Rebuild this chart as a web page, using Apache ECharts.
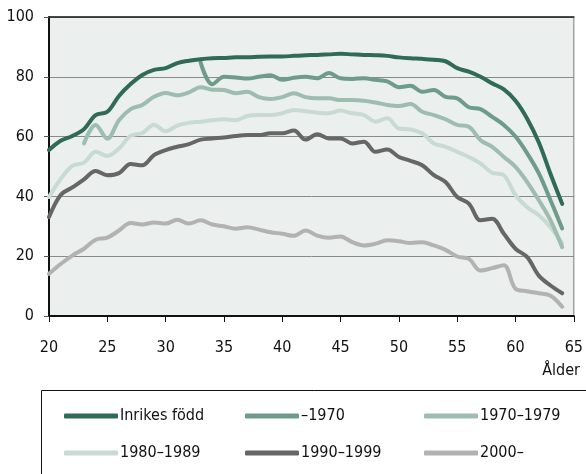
<!DOCTYPE html>
<html><head><meta charset="utf-8">
<script src="https://cdn.jsdelivr.net/npm/echarts@6/dist/echarts.min.js"></script>
<style>html,body{margin:0;padding:0;background:#fff}#c{width:586px;height:474px}</style>
</head><body><div id="c"></div>
<script>
const seriesNames = ['Inrikes född','–1970','1970–1979','1980–1989','1990–1999','2000–'];
const startAges = [20,33,23,20,20,20];
const inrikes = [55.5,58.6,60.2,62.5,67.2,68.3,73.6,77.6,80.6,82.3,82.9,84.6,85.4,85.9,86.2,86.3,86.5,86.5,86.7,86.8,86.8,87,87.2,87.3,87.5,87.7,87.5,87.3,87.2,87,86.5,86.2,86,85.7,85.2,82.9,81.7,80,77.8,75.8,72,66,58,47.5,37.5];
const fore1970 = [84.8,77.5,80,79.8,79.4,80,80.5,79,79.7,80,79.5,81.3,79.5,79.3,79.5,79,78.5,76.5,77,75,75.6,73.3,72.8,69.8,69.2,66.6,63.9,60,54.4,47.7,38.7,29.3];
const y1970_1979 = [57.7,63.9,59.3,65.5,69.2,70.6,73.3,74.6,73.8,74.8,76.5,75.7,75.6,74.5,75,73.2,72.6,73.2,74.5,73.2,72.8,72.8,72.2,72.2,72,71.4,70.6,70.2,70.9,68.3,67.2,65.8,63.9,63.3,58.8,56.6,53.2,49.9,44.8,38.7,32,23];
const y1980_1989 = [39.8,45.8,50.2,51.3,54.9,53.5,56,60.3,61.2,64,61.8,63.7,64.6,65,65.5,65.8,65.5,66.9,67.2,67.2,67.8,68.9,68.5,68,67.8,68.7,67.8,67.2,65,66.1,62.7,62.4,61.1,57.7,56.6,54.9,53.2,51,47.9,47.1,40.4,36.4,33.7,29.7,24.3];
const y1990_1999 = [33.1,40.5,43,45.7,48.5,47.1,47.8,50.8,50.4,53.8,55.5,56.6,57.5,59,59.4,59.7,60.2,60.5,60.5,61.1,61.1,62,59,60.8,59.4,59.4,57.7,58.3,54.9,55.7,53.2,51.9,50.4,47.1,44.8,39.8,37.6,32,32.5,27.5,22.5,19.7,13.5,10.2,7.6];
const y2000 = [14.1,17.4,20.2,22.5,25.5,26.2,28.6,31.1,30.6,31.3,30.9,32.2,30.9,32,30.6,30,29.2,29.7,28.9,28,27.5,26.8,28.6,26.9,26.2,26.6,24.7,23.6,24.2,25.3,25,24.4,24.7,23.6,22.1,19.9,19.1,15.2,16,17,9.1,8.3,7.6,6.8,3.1];
const xTicks = [20,25,30,35,40,45,50,55,60,65];
const yTicks = [0,20,40,60,80,100];

const values = [inrikes,fore1970,y1970_1979,y1980_1989,y1990_1999,y2000];
const colors = ['#2f6b56','#6e9c8a','#9dbdb0','#c7dbd3','#666666','#b2b2b2'];
const FONT = '"DejaVu Sans Condensed","Liberation Sans Narrow",sans-serif';

const drawOrder = [5,4,3,2,1,0];
const series = drawOrder.map(i => ({
  name: seriesNames[i], type: 'line', smooth: 0.35, showSymbol: false, symbol: 'none',
  lineStyle: {color: colors[i], width: 4, cap: 'round', join: 'round'},
  itemStyle: {color: colors[i]},
  data: values[i].map((v, k) => [startAges[i] + k, v]),
  z: 10 - i
}));

function legendCol(names, left) {
  return {
    data: names.map(n => ({name: n, icon: 'roundRect'})),
    orient: 'vertical', left: left, top: 403, itemGap: 21,
    itemWidth: 54, itemHeight: 5,
    textStyle: {fontFamily: FONT, fontSize: 16, color: '#111', padding: [0,0,0,-3]},
    selectedMode: false
  };
}

const chart = echarts.init(document.getElementById('c'), null, {renderer: 'canvas'});
chart.setOption({
  animation: false,
  grid: {left: 49, right: 10, top: 17, bottom: 158, show: true, backgroundColor: '#ebefee', borderColor: '#7a7a7a', borderWidth: 1},
  xAxis: [{
    type: 'value', min: 20, max: 65, interval: 5,
    axisLine: {lineStyle: {color: '#111', width: 2}},
    axisTick: {show: true, length: 6, lineStyle: {color: '#111', width: 1}},
    axisLabel: {margin: 24, fontFamily: FONT, fontSize: 16, color: '#111',
      formatter: v => xTicks.includes(v) ? String(v) : ''},
    splitLine: {show: false}
  },{
    type: 'value', position: 'top', min: 20, max: 65,
    axisLine: {lineStyle: {color: '#222', width: 1.5}}, axisTick: {show: false}, axisLabel: {show: false}, splitLine: {show: false}
  }],
  yAxis: {
    type: 'value', min: 0, max: 100, interval: 20,
    axisLine: {show: true, lineStyle: {color: '#111', width: 2}},
    axisTick: {show: true, length: 5, lineStyle: {color: '#555', width: 1}},
    axisLabel: {margin: 15, fontFamily: FONT, fontSize: 16, color: '#111',
      formatter: v => yTicks.includes(v) ? String(v) : ''},
    splitLine: {show: true, lineStyle: {color: '#8a8a8a', width: 1}}
  },
  legend: [
    legendCol([seriesNames[0], seriesNames[3]], 59),
    legendCol([seriesNames[1], seriesNames[4]], 240),
    legendCol([seriesNames[2], seriesNames[5]], 419)
  ],
  graphic: [
    {type: 'text', right: 6, top: 363, style: {text: 'Ålder', fontFamily: FONT, fontSize: 16, fill: '#111'}},
    {type: 'rect', shape: {x: 41.5, y: 390.5, width: 600, height: 120}, style: {fill: 'none', stroke: '#111', lineWidth: 1}, z: -1}
  ],
  series: series
});
</script></body></html>
